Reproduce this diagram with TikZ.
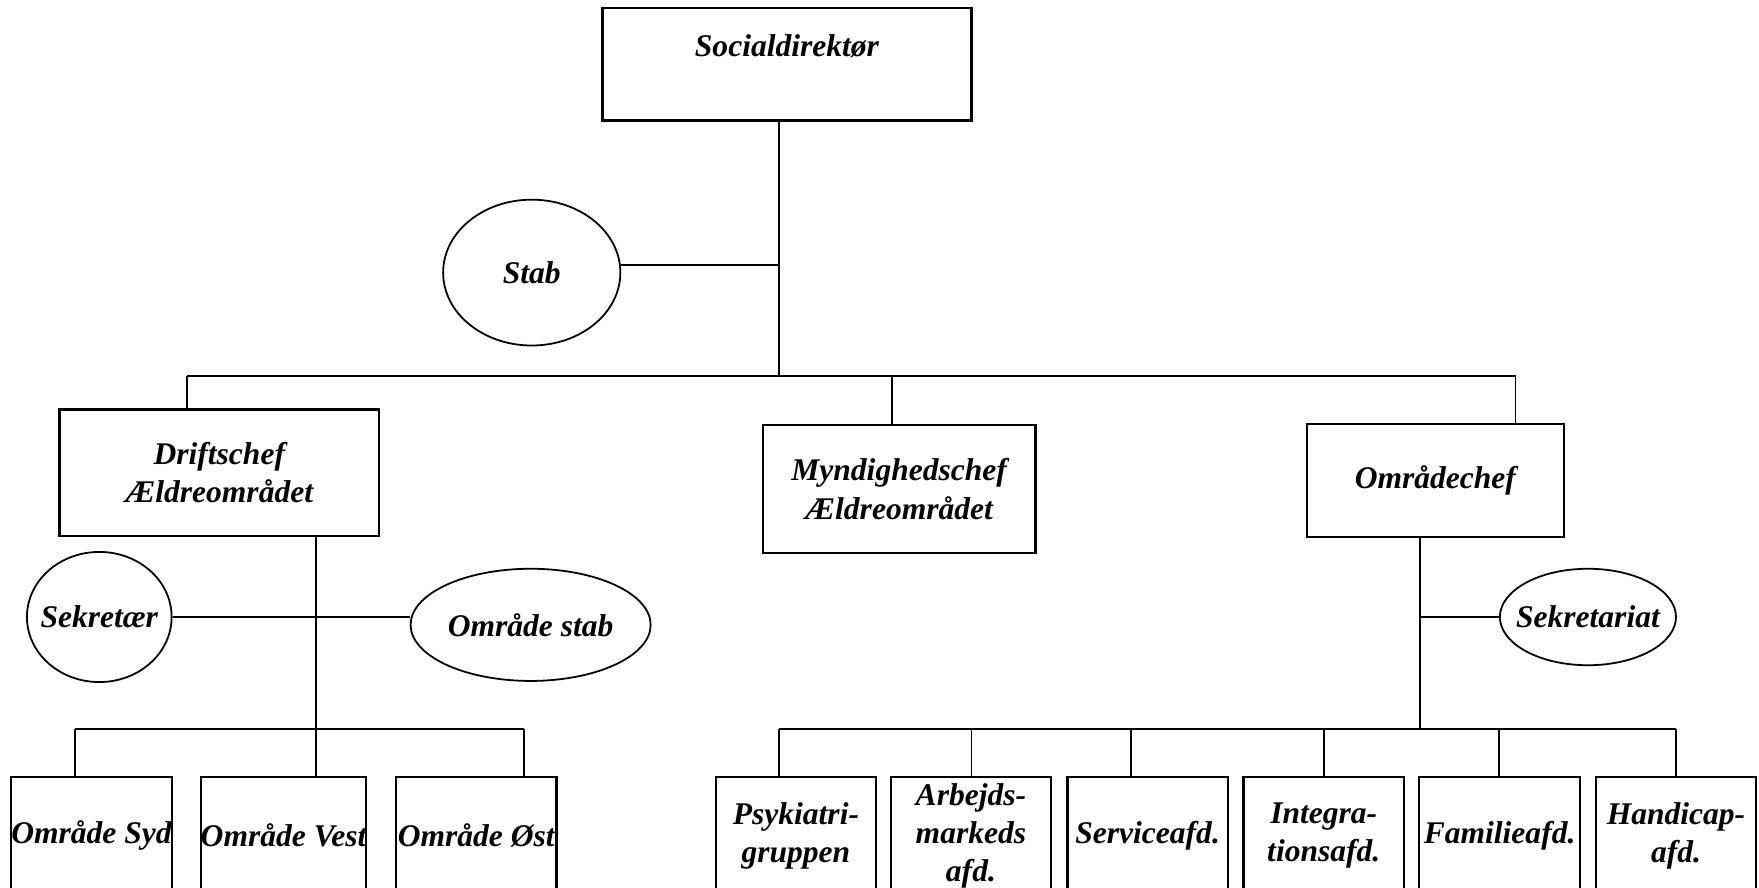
\documentclass[tikz,border=0pt]{standalone}
\usepackage{fontspec}
\setmainfont{Liberation Serif}
\usetikzlibrary{shapes.geometric}

\newcommand{\nulbred}[1]{\makebox[0pt]{#1}}

\tikzset{
    skrift/.style={font=\fontsize{16}{19.4}\selectfont\bfseries\itshape},
    boks/.style={draw, rectangle, line width=1.1pt, inner sep=0pt, align=center, skrift},
    oval/.style={draw, ellipse, line width=0.9pt, inner sep=0pt, skrift},
    linje/.style={line width=0.9pt}
}

\begin{document}
\begin{tikzpicture} %Organisation af socialomraadet
            \useasboundingbox (0,0) rectangle (31.36,15.82);

            \node[boks, minimum width=6.58cm, minimum height=2cm] (soc) at (14.03,14.67) {Socialdirekt\o r\\\mbox{}};
            \node[oval, minimum width=3.16cm, minimum height=2.6cm] (stab) at (9.48,10.96) {\nulbred{Stab}};

            \node[boks, minimum width=5.7cm, minimum height=2.26cm] (drift) at (3.91,7.39) {Driftschef\\\AE ldreomr\aa det};
            \node[boks, minimum width=4.86cm, minimum height=2.28cm] (mynd) at (16.03,7.10) {Myndighedschef\\\AE ldreomr\aa det};
            \node[boks, minimum width=4.58cm, minimum height=2.01cm] (omr) at (25.59,7.255) {Omr\aa dechef};

            \node[oval, minimum width=2.58cm, minimum height=2.32cm] (sek) at (1.77,4.82) {\nulbred{Sekret\ae r}};
            \node[oval, minimum width=4.28cm, minimum height=2cm] (ostab) at (9.46,4.68) {\nulbred{Omr\aa de stab}};
            \node[oval, minimum width=3.14cm, minimum height=1.72cm] (sekr) at (28.31,4.82) {\nulbred{Sekretariat}};

            \node[boks, minimum width=2.86cm, minimum height=2.1cm] (syd) at (1.63,0.92) {Omr\aa de Syd};
            \node[boks, minimum width=2.86cm, minimum height=2.1cm] (vest) at (5.055,0.92) {Omr\aa de Vest};
            \node[boks, minimum width=2.86cm, minimum height=2.1cm] (ost) at (8.49,0.92) {Omr\aa de \O st};

            \node[boks, minimum width=2.86cm, minimum height=2.1cm] (psyk) at (14.19,0.92) {Psykiatri-\\gruppen};
            \node[boks, minimum width=2.86cm, minimum height=2.1cm] (arb) at (17.31,0.92) {Arbejds-\\markeds\\afd.};
            \node[boks, minimum width=2.86cm, minimum height=2.1cm] (serv) at (20.46,0.92) {Serviceafd.};
            \node[boks, minimum width=2.86cm, minimum height=2.1cm] (integ) at (23.60,0.92) {Integra-\\tionsafd.};
            \node[boks, minimum width=2.86cm, minimum height=2.1cm] (fam) at (26.735,0.92) {Familieafd.};
            \node[boks, minimum width=2.86cm, minimum height=2.1cm] (hand) at (29.88,0.92) {Handicap-\\afd.};

            \coordinate (top) at (13.89,9.12);
            \coordinate (jstab) at (13.89,11.10);
            \coordinate (bv) at (3.34,9.12);
            \coordinate (bm) at (15.90,9.12);
            \coordinate (bh) at (27.02,9.12);

            \draw[linje] (soc.south -| top) -- (top);
            \draw[linje] (jstab) -- (jstab -| stab.east);
            \draw[linje] (bv) -- (bh);
            \draw[linje] (bv) -- (bv |- drift.north);
            \draw[linje] (bm) -- (bm |- mynd.north);
            \draw[linje] (bh) -- (bh |- omr.north);

            \coordinate (dj) at (5.63,2.82);
            \coordinate (ls) at (1.34,2.82);
            \coordinate (lo) at (9.34,2.82);

            \draw[linje] (dj |- drift.south) -- (dj);
            \draw[linje] (sek.east) -- (sek.east -| ostab.west);
            \draw[linje] (ls) -- (lo);
            \draw[linje] (ls) -- (ls |- syd.north);
            \draw[linje] (dj) -- (dj |- vest.north);
            \draw[linje] (lo) -- (lo |- ost.north);

            \coordinate (oj) at (25.32,2.82);
            \draw[linje] (oj |- omr.south) -- (oj);
            \draw[linje] (oj |- sekr) -- (sekr.west);

            \foreach \n/\x in {psyk/13.89, arb/17.32, serv/20.16, integ/23.60, fam/26.72, hand/29.88}{
                \coordinate (d\n) at (\x,2.82);
                \draw[linje] (d\n) -- (d\n |- \n.north);
            }
            \draw[linje] (dpsyk) -- (dhand);
        \end{tikzpicture}
\end{document}
